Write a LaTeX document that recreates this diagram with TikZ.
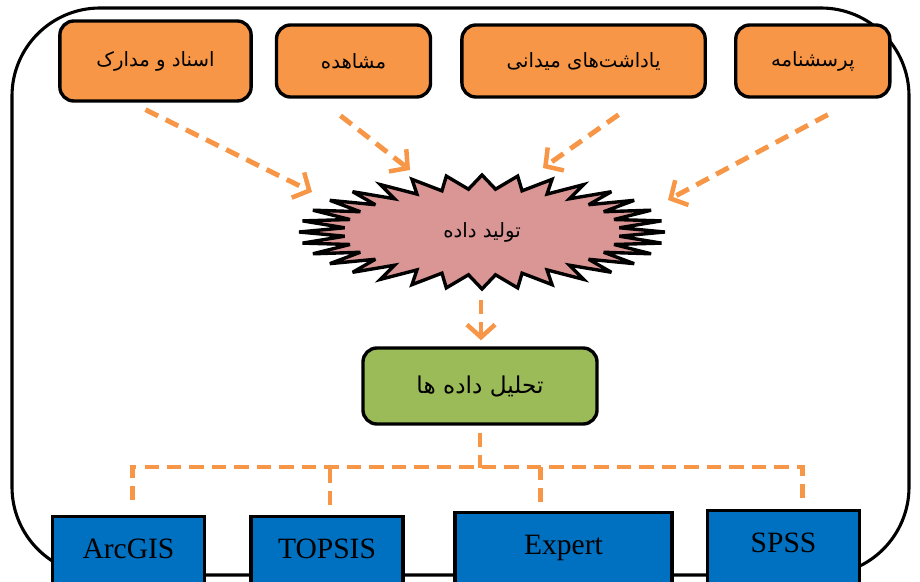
\documentclass[tikz,border=0pt]{standalone}
\usepackage{fontspec}
\setmainfont{Liberation Serif}
\newfontfamily\farsi[Script=Arabic]{DejaVu Sans}
\TeXXeTstate=1
\usetikzlibrary{positioning,arrows.meta}
\definecolor{naranja}{HTML}{F79646}
\definecolor{verde}{HTML}{9BBB59}
\definecolor{azul}{HTML}{0070C0}
\definecolor{rosa}{HTML}{D99694}
\newcommand{\persa}[1]{{\farsi\beginR #1\endR}}

\begin{document}
\begin{tikzpicture}[x=0.025cm, y=-0.025cm, node distance=0.6cm, auto]
		% Definición de estilos
		\tikzstyle{fuente} = [rectangle, draw, line width=2.4pt, fill=naranja,
			rounded corners=0.35cm, minimum width=3.85cm, minimum height=1.8cm,
			font=\fontsize{14}{16}\selectfont]
		\tikzstyle{analisis} = [fuente, fill=verde, minimum width=5.85cm,
			minimum height=1.9cm, font=\fontsize{16.5}{18}\selectfont]
		\tikzstyle{programa} = [rectangle, draw, line width=2.4pt, fill=azul,
			minimum width=3.8cm, minimum height=2cm, text height=15pt, text depth=12pt,
			anchor=north, font=\fontsize{21}{24}\selectfont]
		\tikzstyle{rama} = [draw, naranja, line width=3.5pt, dash pattern=on 10pt off 6pt]
		\tikzstyle{flecha} = [rama, -{Straight Barb[length=9pt, width=20pt, line width=3.2pt]}]

		\useasboundingbox (0,0) rectangle (920,582);

		% Marco
		\draw [line width=2.2pt, rounded corners=2.2cm] (12,8) rectangle (909,575);

		% Estrella
		\draw [line width=2.4pt, fill=rosa, miter limit=4]
			plot [samples at={0,...,63}, variable=\k]
			({482+ifthenelse(mod(\k,2)==0,183,138)*cos(\k*5.625)},
			 {232-ifthenelse(mod(\k,2)==0,57,43)*sin(\k*5.625)}) -- cycle;

		% Nodos
		\node [fuente, minimum width=4.78cm, minimum height=2cm] (asnad) at (155.5,61) {\persa{اسناد و مدارک}};
		\node [fuente, right=0.55cm of asnad] (moshahede) {\persa{مشاهده}};
		\node [fuente, minimum width=6.08cm, right=0.7cm of moshahede] (yaddasht) {\persa{یاداشت‌های میدانی}};
		\node [fuente, right=0.68cm of yaddasht] (porsesh) {\persa{پرسشنامه}};

		\node [font=\fontsize{14}{16}\selectfont] (tolid) at (482,232) {\persa{تولید داده}};
		\node [analisis] (analisis) at (480,386) {\persa{تحلیل داده ها}};

		\node [programa] (arcgis) at (128.5,515) {ArcGIS};
		\node [programa] (topsis) at (327,515) {TOPSIS};
		\node [programa, minimum width=5.43cm] (expert) at (563.5,511) {Expert};
		\node [programa] (spss) at (783.5,509) {SPSS};

		% Conexiones
		\path [flecha] ([shift={(-10,7)}]asnad.south) -- ([shift={(-170,-40)}]tolid.center);
		\path [flecha] ([shift={(-13,17)}]moshahede.south) -- ([shift={(-72,-62)}]tolid.center);
		\path [flecha] ([shift={(35,16)}]yaddasht.south) -- ([shift={(61,-64)}]tolid.center);
		\path [flecha] ([shift={(15,16)}]porsesh.south) -- ([shift={(186,-32)}]tolid.center);
		\path [flecha] ([shift={(-1,68)}]tolid.center) -- ([shift={(1,-6)}]analisis.north);

		\path [rama] ([shift={(0,7)}]analisis.south) -- ++(0,35);
		\path [rama] ([shift={(4,-15)}]arcgis.north) |- ([shift={(19,-42)}]spss.north) -- ([shift={(19,-7)}]spss.north);
		\path [rama] ([shift={(3,-10)}]topsis.north) -- ++(0,-38);
		\path [rama] ([shift={(-23,-9)}]expert.north) -- ++(0,-35);
\end{tikzpicture}
\end{document}
